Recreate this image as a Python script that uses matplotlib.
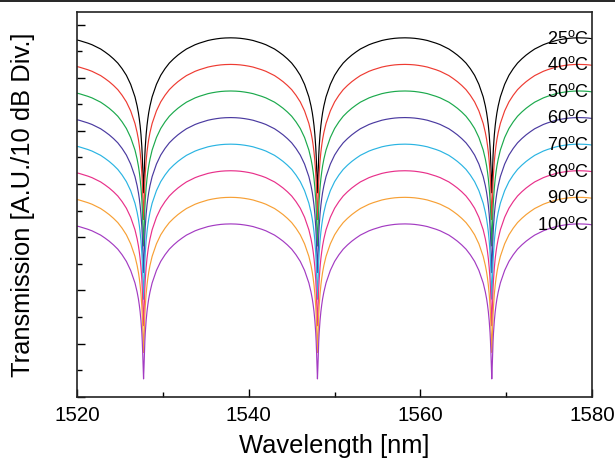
import numpy as np
import matplotlib
matplotlib.use('Agg')
from matplotlib import pyplot as plt
from matplotlib.lines import Line2D
from matplotlib.ticker import MultipleLocator

plt.rcParams['font.family'] = ['Liberation Sans', 'DejaVu Sans']
plt.rcParams['mathtext.fontset'] = 'custom'
plt.rcParams['mathtext.rm'] = 'Liberation Sans'

# temperatures and their peak level (in y divisions)
temps = ['25', '40', '50', '60', '70', '80', '90', '100']
peak_levels = [13.5, 12.5, 11.5, 10.5, 9.5, 8.5, 7.5, 6.5]
colors = ['#000000', '#ee3b32', '#1ba94c', '#4a3aa0', '#2ab4e2', '#e8308a', '#f7a035', '#a33bc2']

# dip wavelengths [nm] (last one is just outside the plot)
dips = [1527.75, 1548.0, 1568.3, 1588.6]

# dip profile: distance from dip [nm] vs drop below peak [div]
profile_dl = [0.0, 0.05, 0.1, 0.15, 0.2, 0.3, 0.4, 0.5, 0.6, 0.75, 1.0, 1.5, 2.0, 2.5,
              3.0, 3.5, 4.0, 4.5, 5.0, 5.5, 6.0, 6.5, 7.0, 7.5, 8.0, 8.5, 9.0, 9.5, 10.1]
profile_drop = [5.83, 5.40, 4.84, 4.42, 4.10, 3.64, 3.30, 3.04, 2.82, 2.56, 2.22, 1.75, 1.41, 1.16,
                0.95, 0.79, 0.65, 0.53, 0.42, 0.34, 0.26, 0.20, 0.15, 0.10, 0.066, 0.039, 0.018, 0.006, 0.0]

x_ticks = [1520, 1540, 1560, 1580]

# build one spectrum shape from the profile placed at every dip
dl = np.array(profile_dl)
dr = np.array(profile_drop)
wl, drop = [], []
for d in dips:
    wl += list(d - dl[::-1]) + list(d + dl[1:])
    drop += list(dr[::-1]) + list(dr[1:])
wl = np.array(wl)
drop = np.array(drop)

fig = plt.figure(figsize=(6.15, 4.59), dpi=100)
ax = fig.add_axes([0.1252, 0.1357, 0.963 - 0.1252, 0.9732 - 0.1357])

for t, lev, c in zip(temps, peak_levels, colors):
    ax.plot(wl, lev - drop, color=c, lw=0.85)
    ax.text(1579.6, lev - 0.03, t + r'$^\mathrm{o}$C', ha='right', va='center', fontsize=13)

ax.set_xlim(1520, 1580)
ax.set_ylim(0, 14.46)
ax.set_xticks(x_ticks)
ax.xaxis.set_minor_locator(MultipleLocator(10))
ax.yaxis.set_major_locator(MultipleLocator(2))
ax.yaxis.set_minor_locator(MultipleLocator(1))
ax.set_yticklabels([])
ax.tick_params(which='both', direction='in', top=False, right=False, width=1.0)
ax.tick_params(which='major', length=5.8)
ax.tick_params(which='minor', length=3.4)
ax.tick_params(axis='x', labelsize=14.8, pad=7)
for s in ax.spines.values():
    s.set_linewidth(1.2)
    s.set_color('#222222')

ax.set_xlabel('Wavelength [nm]', fontsize=18.4, labelpad=6.5)
ax.set_ylabel('Transmission [A.U./10 dB Div.]', fontsize=18.4)
ax.yaxis.set_label_coords(-0.081, 0.5)

# thin rule along the top edge of the image
fig.add_artist(Line2D([0, 1], [1 - 1.0 / 459, 1 - 1.0 / 459], transform=fig.transFigure,
                      color='black', lw=1.2))

fig.savefig('out.png', dpi=100)
